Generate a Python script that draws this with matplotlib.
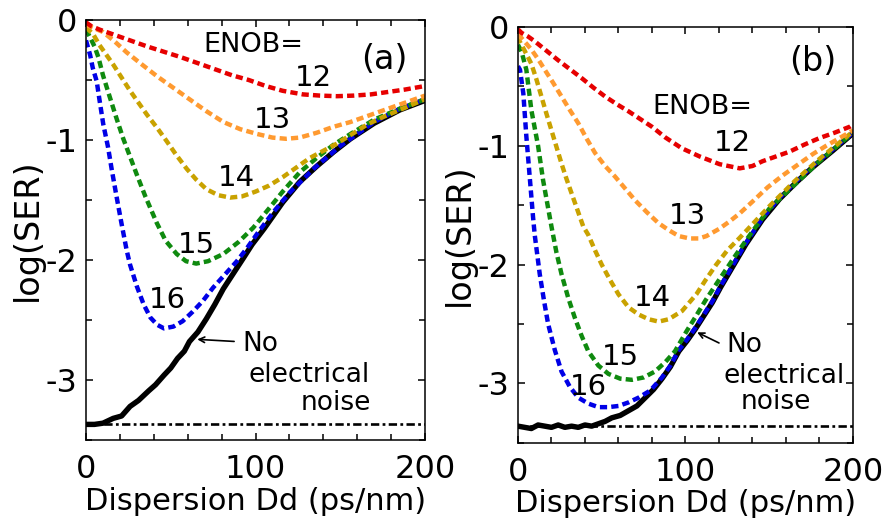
import matplotlib
matplotlib.use("Agg")
import matplotlib.pyplot as plt

plt.rcParams["font.family"] = ["DejaVu Sans"]
plt.rcParams["axes.unicode_minus"] = False
plt.rcParams["lines.scale_dashes"] = False

# ---- panel (a) ----
a_black_x = [0, 5, 10, 16, 21, 26, 31, 37, 41, 46, 50, 54, 58, 61, 66, 71, 76, 81, 87, 93, 98, 105, 116, 126, 136, 146, 156, 170, 185, 200]
a_black_y = [-3.37, -3.37, -3.36, -3.32, -3.30, -3.22, -3.17, -3.09, -3.04, -2.96, -2.90, -2.82, -2.76, -2.68, -2.60, -2.49, -2.37, -2.24, -2.11, -1.98, -1.87, -1.74, -1.52, -1.35, -1.22, -1.10, -0.99, -0.86, -0.75, -0.67]

a16_x = [0, 2.4, 4, 6.3, 8, 10.2, 13, 15.1, 18, 21, 24, 26, 30, 34, 38, 42, 46, 51.5, 57, 63, 69, 75, 82, 89, 95, 101, 110, 120, 135, 150, 170, 185, 200]
a16_y = [-0.17, -0.29, -0.40, -0.51, -0.67, -0.87, -1.06, -1.24, -1.47, -1.70, -1.92, -2.04, -2.22, -2.37, -2.48, -2.54, -2.57, -2.555, -2.51, -2.43, -2.34, -2.23, -2.12, -2.01, -1.90, -1.78, -1.61, -1.44, -1.23, -1.05, -0.85, -0.74, -0.66]

a15_x = [0, 2.4, 5, 7.3, 10, 14.2, 18, 22, 26, 30, 35, 41.7, 47, 53.5, 59, 65, 72, 81, 90, 98.7, 108, 116, 126, 136, 146, 156, 170, 185, 200]
a15_y = [-0.08, -0.145, -0.22, -0.31, -0.46, -0.65, -0.82, -0.99, -1.14, -1.29, -1.47, -1.69, -1.84, -1.95, -2.01, -2.03, -2.01, -1.95, -1.85, -1.73, -1.57, -1.43, -1.27, -1.15, -1.04, -0.95, -0.83, -0.74, -0.66]

a14_x = [0, 4.3, 8, 12, 16, 21, 26, 31, 36, 42, 47.6, 53, 59.4, 65, 71, 78, 85, 92, 100, 108, 116, 124, 132, 140, 148, 157, 166, 175, 185, 200]
a14_y = [-0.06, -0.12, -0.21, -0.29, -0.37, -0.48, -0.59, -0.69, -0.79, -0.90, -1.01, -1.12, -1.24, -1.33, -1.41, -1.46, -1.48, -1.47, -1.43, -1.38, -1.31, -1.23, -1.15, -1.09, -1.03, -0.95, -0.87, -0.81, -0.75, -0.66]

a13_x = [0, 5, 10, 17, 24, 32, 42, 52, 61, 71, 81, 91, 101, 110, 118, 126, 136, 146, 156, 166, 176, 188, 200]
a13_y = [-0.04, -0.07, -0.10, -0.18, -0.27, -0.36, -0.47, -0.57, -0.66, -0.76, -0.85, -0.91, -0.95, -0.98, -0.99, -0.98, -0.94, -0.89, -0.85, -0.80, -0.75, -0.69, -0.63]

a12_x = [0, 3, 8, 16, 26, 36, 46, 56, 66, 76, 86, 96, 106, 116, 128, 138, 148, 158, 168, 178, 188, 200]
a12_y = [-0.02, -0.05, -0.08, -0.12, -0.17, -0.22, -0.265, -0.31, -0.36, -0.41, -0.46, -0.50, -0.55, -0.59, -0.62, -0.63, -0.635, -0.63, -0.62, -0.60, -0.58, -0.55]

# ---- panel (b) ----
b_black_x = [0, 4, 8, 12, 16, 20, 24, 28, 32, 36, 40, 44, 48, 52, 56, 61, 66, 71, 76, 81, 86, 91, 96, 101, 106, 111, 116, 121, 126, 131, 136, 146, 156, 166, 176, 188, 200]
b_black_y = [-3.36, -3.37, -3.38, -3.35, -3.36, -3.37, -3.35, -3.37, -3.36, -3.37, -3.35, -3.36, -3.34, -3.32, -3.29, -3.27, -3.23, -3.19, -3.12, -3.05, -2.96, -2.86, -2.73, -2.64, -2.54, -2.43, -2.32, -2.19, -2.07, -1.95, -1.83, -1.62, -1.45, -1.31, -1.18, -1.04, -0.895]

b16_x = [0, 1.2, 3.2, 5, 7, 9, 10, 13, 15.5, 18, 22, 26, 31, 36, 42, 48, 54, 60, 66, 72, 79, 86, 91, 96, 101, 106, 111, 116, 121, 126, 131, 136, 146, 156, 166, 176, 188, 200]
b16_y = [-0.33, -0.36, -0.56, -0.92, -1.26, -1.60, -1.75, -2.08, -2.30, -2.50, -2.72, -2.90, -3.03, -3.12, -3.17, -3.20, -3.20, -3.19, -3.16, -3.12, -3.06, -2.95, -2.85, -2.72, -2.63, -2.53, -2.42, -2.31, -2.18, -2.06, -1.94, -1.82, -1.61, -1.44, -1.30, -1.17, -1.03, -0.89]

b15_x = [0, 2.2, 5, 8, 12, 15, 20, 23, 26, 30, 34, 38, 42, 48, 54, 61, 68, 75, 81.8, 88, 93.7, 100.7, 106, 112, 120, 130, 140, 150, 165, 180, 200]
b15_y = [-0.15, -0.21, -0.36, -0.70, -1.00, -1.29, -1.68, -1.90, -2.08, -2.28, -2.45, -2.60, -2.73, -2.85, -2.92, -2.96, -2.97, -2.95, -2.90, -2.82, -2.73, -2.56, -2.44, -2.30, -2.13, -1.92, -1.72, -1.53, -1.33, -1.13, -0.89]

b14_x = [0, 1, 4, 8, 11, 14, 17, 20, 23, 26, 29, 32, 35, 39, 42, 46, 50, 55, 60, 66, 72, 78, 84, 90, 98, 106.5, 112, 118.4, 125, 132, 140, 150, 165, 180, 200]
b14_y = [-0.08, -0.12, -0.20, -0.31, -0.44, -0.585, -0.73, -0.87, -1.01, -1.15, -1.28, -1.40, -1.52, -1.68, -1.75, -1.88, -2.00, -2.13, -2.25, -2.36, -2.42, -2.46, -2.48, -2.46, -2.39, -2.25, -2.13, -2.00, -1.88, -1.78, -1.66, -1.51, -1.30, -1.11, -0.88]

b13_x = [0, 2.2, 5, 8, 12, 16, 21, 26, 31, 36, 41, 46, 52, 58, 64, 70, 77, 83.8, 90, 96, 102.5, 108, 112.5, 120, 126, 132.3, 140, 149, 158, 167, 176, 184, 192, 200]
b13_y = [-0.06, -0.095, -0.14, -0.19, -0.27, -0.36, -0.47, -0.585, -0.70, -0.81, -0.94, -1.06, -1.17, -1.26, -1.36, -1.46, -1.56, -1.65, -1.71, -1.76, -1.78, -1.78, -1.76, -1.70, -1.64, -1.57, -1.47, -1.35, -1.25, -1.16, -1.07, -1.00, -0.935, -0.87]

b12_x = [0, 2.2, 6, 10, 17, 24, 31, 38, 45, 52, 59, 66, 73, 80, 88, 97.7, 108.5, 120.4, 132.4, 140, 146, 154, 162, 171, 180, 189, 198, 200]
b12_y = [-0.02, -0.05, -0.08, -0.12, -0.20, -0.28, -0.355, -0.43, -0.51, -0.585, -0.65, -0.71, -0.775, -0.84, -0.93, -1.02, -1.09, -1.155, -1.19, -1.17, -1.13, -1.09, -1.05, -0.99, -0.935, -0.89, -0.84, -0.82]

floor_a = -3.37
floor_b = -3.36

enob = ["16", "15", "14", "13", "12"]
colors = ["#0000e6", "#0f8a0f", "#c9a200", "#ff9a30", "#e60000"]

a_curves = [(a16_x, a16_y), (a15_x, a15_y), (a14_x, a14_y), (a13_x, a13_y), (a12_x, a12_y)]
b_curves = [(b16_x, b16_y), (b15_x, b15_y), (b14_x, b14_y), (b13_x, b13_y), (b12_x, b12_y)]

# label anchors (x, y) per ENOB, same order as enob list
a_label_pos = [(48, -2.33), (65, -1.875), (88.5, -1.32), (110, -0.83), (134, -0.48)]
b_label_pos = [(42, -3.03), (61, -2.78), (80, -2.28), (101, -1.59), (128, -0.975)]

fig = plt.figure(figsize=(8.83, 5.18), dpi=100)
ax_a = fig.add_axes([0.0974, 0.1506, 0.384, 0.8108])
ax_b = fig.add_axes([0.5866, 0.1452, 0.3794, 0.8027])


def style_axes(ax):
    ax.set_xlim(0, 200)
    ax.set_ylim(-3.5, 0)
    ax.set_xticks([0, 100, 200])
    ax.set_xticks(range(0, 201, 20), minor=True)
    ax.set_yticks([0, -1, -2, -3])
    ax.set_yticks([-0.5, -1.5, -2.5, -3.5], minor=True)
    ax.tick_params(which="both", direction="in", top=True, right=True,
                   width=1.1, labelsize=23)
    ax.tick_params(which="major", length=5)
    ax.tick_params(which="minor", length=4)
    ax.tick_params(axis="x", pad=10)
    ax.tick_params(axis="y", pad=6)
    for s in ax.spines.values():
        s.set_linewidth(1.1)
    ax.set_xlabel("Dispersion Dd (ps/nm)", fontsize=22)
    ax.xaxis.set_label_coords(0.5, -0.112)
    ax.set_ylabel("log(SER)", fontsize=24)
    ax.yaxis.set_label_coords(-0.125, 0.5)


def draw_panel(ax, black_x, black_y, curves, floor):
    ax.plot([0, 200], [floor, floor], color="black", lw=1.9,
            dashes=(6, 2.4, 2, 2.4))
    ax.plot(black_x, black_y, color="black", lw=3.9, solid_joinstyle="round")
    for (xs, ys), c in zip(curves, colors):
        ax.plot(xs, ys, color=c, lw=3.2, dashes=(5.2, 3.0))


draw_panel(ax_a, a_black_x, a_black_y, a_curves, floor_a)
draw_panel(ax_b, b_black_x, b_black_y, b_curves, floor_b)

for ax in (ax_a, ax_b):
    style_axes(ax)

for (x, y), t in zip(a_label_pos, enob):
    ax_a.text(x, y, t, fontsize=21, ha="center", va="center")
for (x, y), t in zip(b_label_pos, enob):
    ax_b.text(x, y, t, fontsize=21, ha="center", va="center")

ax_a.text(98.5, -0.21, "ENOB=", fontsize=19.5, ha="center", va="center")
ax_b.text(110, -0.67, "ENOB=", fontsize=19.5, ha="center", va="center")
ax_a.text(176, -0.33, "(a)", fontsize=24, ha="center", va="center")
ax_b.text(176, -0.29, "(b)", fontsize=24, ha="center", va="center")

# "No electrical noise" callouts
ax_a.annotate("", xy=(64, -2.66), xytext=(89, -2.68),
              arrowprops=dict(arrowstyle="->", color="black", lw=1.2))
ax_a.text(103, -2.70, "No", fontsize=19, ha="center", va="center")
ax_a.text(131.5, -2.96, "electrical", fontsize=19, ha="center", va="center")
ax_a.text(147.5, -3.19, "noise", fontsize=19, ha="center", va="center")

ax_b.annotate("", xy=(105.5, -2.56), xytext=(121.5, -2.67),
              arrowprops=dict(arrowstyle="->", color="black", lw=1.2))
ax_b.text(135, -2.68, "No", fontsize=19, ha="center", va="center")
ax_b.text(159, -2.94, "electrical", fontsize=19, ha="center", va="center")
ax_b.text(154, -3.16, "noise", fontsize=19, ha="center", va="center")

fig.savefig("out.png", dpi=100)
